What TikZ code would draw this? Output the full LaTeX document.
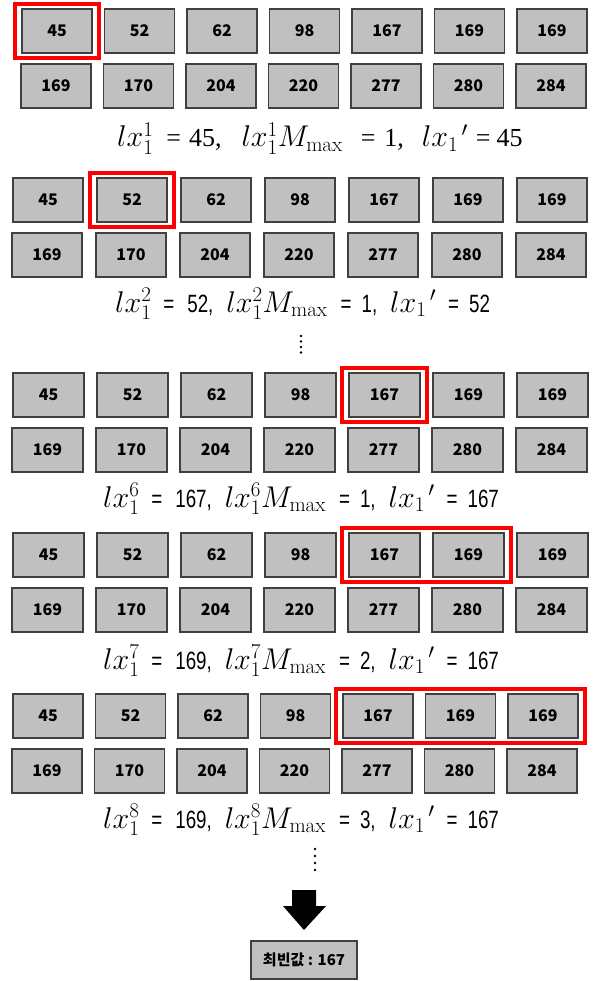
\RequirePackage{fix-cm}
\documentclass[tikz,border=0pt]{standalone}
\usepackage{fontspec}
\newfontfamily\kr{Noto Sans CJK KR}
\newfontfamily\tnr{Liberation Serif}
\newfontfamily\narrow{Liberation Sans}[FakeStretch=0.75]
\usetikzlibrary{fit}
\definecolor{boxfill}{HTML}{C0C0C0}
\definecolor{boxborder}{HTML}{404040}
\definecolor{hlred}{HTML}{FF0000}
\tikzset{
  cell/.style={draw=boxborder, fill=boxfill, line width=1.2pt, minimum height=44pt,
    inner sep=0pt, outer sep=0pt, anchor=north west,
    font=\kr\bfseries\fontsize{16}{16}\selectfont},
  hl/.style={draw=hlred, line width=4pt, inner xsep=7pt, inner ysep=5pt},
  formula/.style={anchor=base west, inner sep=0pt, font=\fontsize{30}{32}\selectfont},
  vdot/.style={circle, fill=black, inner sep=0pt, minimum size=2.6pt},
}
\newcommand\mkrow[6]{%
  \foreach \v [count=\i from 1] in {#6} {
    \node[cell, minimum width=#5pt] (#1\i) at ({#2+(\i-1)*#3}, #4) {\v};
  }}
\newcommand\tn[1]{{\tnr\fontsize{26}{28}\selectfont #1}}
\newcommand\nr[1]{{\narrow\fontsize{25}{28}\selectfont #1}}
\newcommand\eqA[4]{$lx_1^{#1}$\hspace{13pt}\tn{=}\hspace{8pt}\tn{#2,}\hspace{20pt}$lx_1^{#1}M_{\max}$\hspace{18pt}\tn{=}\hspace{9pt}\tn{#3,}\hspace{18pt}$lx_1{}^{\,\prime}$\hspace{8pt}\tn{=}\hspace{6pt}\tn{#4}}
\newcommand\eqB[4]{$lx_1^{#1}$\hspace{12pt}\nr{=}\hspace{13pt}\nr{#2,}\hspace{13pt}$lx_1^{#1}M_{\max}$\hspace{13pt}\nr{=}\hspace{10pt}\nr{#3,}\hspace{13pt}$lx_1{}^{\,\prime}$\hspace{12pt}\nr{=}\hspace{10pt}\nr{#4}}
\begin{document}
\begin{tikzpicture}[x=1pt, y=-1pt]
\useasboundingbox (0,0) rectangle (592,981);
% block 1
\mkrow{a}{22}{82.5}{9}{70}{45,52,62,98,167,169,169}
\mkrow{A}{21}{82.5}{64}{70}{169,170,204,220,277,280,284}
\node[hl, fit=(a1)] (h1) {};
\node[formula] (f1) at (117,147) {\eqA{1}{45}{1}{45}};
% block 2
\mkrow{b}{13}{84}{178}{70}{45,52,62,98,167,169,169}
\mkrow{B}{12}{84}{233}{70}{169,170,204,220,277,280,284}
\node[hl, fit=(b2)] (h2) {};
\node[formula] (f2) at (115,312) {\eqB{2}{52}{1}{52}};
\foreach \k/\yy in {1/336,2/341.5,3/347,4/352.5} \node[vdot] (da\k) at (301,\yy) {};
% block 3
\mkrow{c}{13}{84}{373}{71}{45,52,62,98,167,169,169}
\mkrow{C}{12}{84}{428}{71}{169,170,204,220,277,280,284}
\node[hl, fit=(c5)] (h3) {};
\node[formula] (f3) at (103,507) {\eqB{6}{167}{1}{167}};
% block 4
\mkrow{d}{13}{84}{533}{71}{45,52,62,98,167,169,169}
\mkrow{D}{12}{84}{588}{71}{169,170,204,220,277,280,284}
\node[hl, fit=(d5)(d6)] (h4) {};
\node[formula] (f4) at (103,669) {\eqB{7}{169}{2}{167}};
% block 5
\mkrow{e}{13}{82.5}{694}{70}{45,52,62,98,167,169,169}
\mkrow{E}{12}{82.5}{749}{70}{169,170,204,220,277,280,284}
\node[hl, fit=(e5)(e6)(e7)] (h5) {};
\node[formula] (f5) at (103,828) {\eqB{8}{169}{3}{167}};
\foreach \k/\yy in {1/849,2/856,3/863,4/870} \node[vdot] (db\k) at (315,\yy) {};
% arrow and result
\fill[black] (292,890) -- (316,890) -- (316,906) -- (326,906) -- (304,930) -- (283,906) -- (292,906) -- cycle;
\node[cell, anchor=center, minimum width=106pt, minimum height=38pt,
  font=\kr\bfseries\fontsize{15}{15}\selectfont] (res) at (304,960) {최빈값 : 167};
\end{tikzpicture}
\end{document}
